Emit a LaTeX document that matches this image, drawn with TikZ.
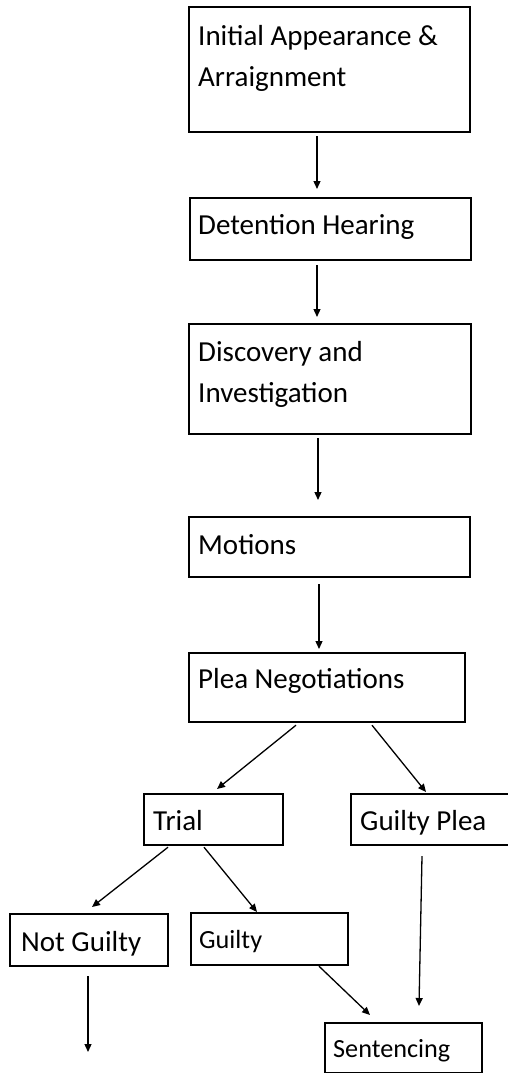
\documentclass[tikz,border=0pt]{standalone}
\usepackage{fontspec}
\setmainfont{Carlito}
\usetikzlibrary{arrows.meta,calc}
\begin{document}
\begin{tikzpicture}[x=1pt,y=-1pt,
  box/.style={draw=black,line width=2.2pt,rectangle,inner sep=0pt,anchor=north west},
  txt/.style={inner sep=0pt,anchor=base west,align=left,font=\fontsize{29}{40.5}\selectfont},
  txts/.style={inner sep=0pt,anchor=base west,font=\fontsize{26.2}{32}\selectfont},
  arr/.style={line width=1.3pt,-{Triangle[length=8pt,width=7pt]}}]
\useasboundingbox (0,0) rectangle (508,1073);
% boxes
\node[box,minimum width=281,minimum height=125] (b1) at (188,6) {};
\node[box,minimum width=281,minimum height=62] (b2) at (189,197) {};
\node[box,minimum width=282,minimum height=110] (b3) at (188,323) {};
\node[box,minimum width=281,minimum height=60] (b4) at (188,516) {};
\node[box,minimum width=276,minimum height=69] (b5) at (188,652) {};
\node[box,minimum width=139,minimum height=51] (trial) at (143,793) {};
\node[box,minimum width=162,minimum height=51] (gplea) at (350,793) {};
\node[box,minimum width=158,minimum height=52] (ng) at (9,913) {};
\node[box,minimum width=157,minimum height=52] (g) at (190,912) {};
\node[box,minimum width=157,minimum height=50] (sent) at (324,1022) {};
% texts (base anchor = last line)
\node[txt] (t1) at (198,86) {Initial Appearance \&\\Arraignment};
\node[txt] (t2) at (198,234) {Detention Hearing};
\node[txt] (t3) at (198,402) {Discovery and\\Investigation};
\node[txt] (t4) at (198,554) {Motions};
\node[txt] (t5) at (198,688) {Plea Negotiations};
\node[txt] (t6) at (153,830) {Trial};
\node[txt] (t7) at (360,830) {Guilty Plea};
\node[txt] (t8) at (21,951) {Not Guilty};
\node[txts] (t9) at (199,948) {Guilty};
\node[txts] (t10) at (333,1057) {Sentencing};
\coordinate (end) at (88,1052);
% connectors
\draw[arr] ($(b1.south west)+(129,3)$) -- ($(b2.north west)+(128,-8)$);
\draw[arr] ($(b2.south west)+(128,4)$) -- ($(b3.north west)+(129,-6)$);
\draw[arr] ($(b3.south west)+(130,3)$) -- ($(b4.north west)+(130,-16)$);
\draw[arr] ($(b4.south west)+(131,6)$) -- ($(b5.north west)+(131,-3)$);
\draw[arr] ($(b5.south west)+(108,2)$) -- ($(trial.north west)+(74,-4)$);
\draw[arr] ($(b5.south west)+(184,2)$) -- ($(gplea.north west)+(76,-1)$);
\draw[arr] ($(trial.south west)+(25,1)$) -- ($(ng.north west)+(83,-6)$);
\draw[arr] ($(trial.south west)+(61,1)$) -- ($(g.north west)+(67,0)$);
\draw[arr] ($(ng.south west)+(79,9)$) -- (end);
\draw[arr] ($(g.south west)+(129,0)$) -- ($(sent.north west)+(46,-7)$);
\draw[arr] ($(gplea.south west)+(72,10)$) -- ($(sent.north west)+(95,-16)$);
\end{tikzpicture}
\end{document}
